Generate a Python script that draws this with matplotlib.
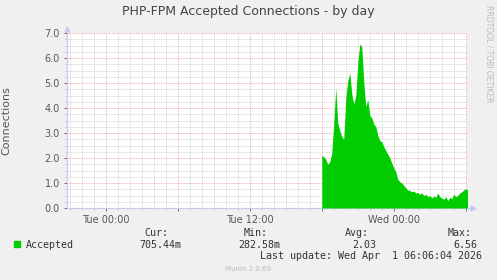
import matplotlib
matplotlib.use('Agg')
import matplotlib.pyplot as plt
from matplotlib.ticker import FixedLocator, MultipleLocator

# data: hours relative to Tue 00:00, 10-minute samples starting Tue 18:00
start_hour = 18.0
step_hours = 1 / 6
accepted = [2.10, 2.05, 1.95, 1.75, 1.85, 2.20, 3.40, 4.80, 3.40, 3.10,
            2.85, 2.75, 4.40, 5.10, 5.40, 4.55, 4.15, 4.50, 5.80, 6.56,
            6.45, 5.00, 4.05, 4.35, 3.70, 3.60, 3.35, 3.25, 2.90, 2.70,
            2.65, 2.45, 2.30, 2.15, 2.00, 1.80, 1.60, 1.45, 1.15, 1.05,
            1.00, 0.90, 0.80, 0.72, 0.70, 0.65, 0.68, 0.60, 0.62, 0.55,
            0.60, 0.50, 0.55, 0.45, 0.50, 0.40, 0.48, 0.42, 0.60, 0.45,
            0.40, 0.35, 0.45, 0.30, 0.42, 0.38, 0.55, 0.45, 0.50, 0.60,
            0.65, 0.72, 0.78, 0.71]
hours = [start_hour + i * step_hours for i in range(len(accepted))]

x_min, x_max = -3.233, 30.1
tick_hours = [0, 6, 12, 18, 24, 30]
tick_labels = ['Tue 00:00', '', 'Tue 12:00', '', 'Wed 00:00', '']
y_ticks = [0, 1, 2, 3, 4, 5, 6, 7]

title = 'PHP-FPM Accepted Connections - by day'
stats_heads = ['Cur:', 'Min:', 'Avg:', 'Max:']
stats_vals = ['705.44m', '282.58m', '2.03', '6.56']

W, H = 497, 280
bg = '#F0F0F0'
axis_col = '#C8C8F0'
txt = '#555555'

fig = plt.figure(figsize=(W / 100, H / 100), dpi=100, facecolor=bg)
ax = fig.add_axes([67 / W, 72 / H, 400 / W, 175 / H])
ax.set_facecolor('white')

ax.fill_between(hours, accepted, 0, color='#00CC00', linewidth=0, zorder=3)

ax.set_xlim(x_min, x_max)
ax.set_ylim(0, 7.0)

# grid
ax.xaxis.set_major_locator(FixedLocator(tick_hours))
ax.xaxis.set_minor_locator(MultipleLocator(1))
ax.yaxis.set_major_locator(FixedLocator(y_ticks))
ax.yaxis.set_minor_locator(MultipleLocator(0.25))
ax.grid(which='minor', color='#CCCCCC', linestyle=(0, (1, 1)), linewidth=0.6, zorder=1)
ax.grid(which='major', color='#F29A9A', linestyle=(0, (1, 1)), linewidth=0.6, zorder=2)
ax.set_axisbelow(True)

ax.set_xticklabels(tick_labels)
ax.set_yticklabels(['%.1f' % v for v in y_ticks])
ax.tick_params(axis='both', which='major', labelsize=7, colors=txt, length=2, width=0.6, pad=3)
ax.tick_params(axis='both', which='minor', length=1.5, width=0.5, color='#BBBBBB')
for t in ax.get_xticklines() + ax.get_yticklines():
    t.set_color('#E08080')

for side in ['top', 'right']:
    ax.spines[side].set_visible(False)
for side in ['left', 'bottom']:
    ax.spines[side].set_color(axis_col)
    ax.spines[side].set_linewidth(0.8)

# axis arrows
ax.plot([0, 0], [1.0, 1.02], color=axis_col, linewidth=0.8, transform=ax.transAxes, clip_on=False)
ax.plot([0], [1.025], marker='^', color=axis_col, markersize=3.5, transform=ax.transAxes, clip_on=False)
ax.plot([1.0, 1.01], [0, 0], color=axis_col, linewidth=0.8, transform=ax.transAxes, clip_on=False)
ax.plot([1.014], [0], marker='>', color=axis_col, markersize=3.5, transform=ax.transAxes, clip_on=False)

ax.set_ylabel('Connections', fontsize=8, color=txt)
ax.yaxis.set_label_coords(-56 / 400, 0.5)

fig.text(248 / W, 1 - 12 / H, title, ha='center', va='center', fontsize=9, color='#444444')
fig.text(489 / W, 1 - 5 / H, 'RRDTOOL / TOBI OETIKER', rotation=270, ha='center', va='top',
         fontsize=5.5, color='#BBBBBB')

# legend and stats
mono = 'DejaVu Sans Mono'
fig.patches.append(plt.Rectangle((14 / W, 1 - 247 / H), 6 / W, 6 / H, transform=fig.transFigure,
                                 color='#00CC00'))
fig.text(26 / W, 1 - 245 / H, 'Accepted', ha='left', va='center', fontsize=7.2, family=mono, color='#333333')
head_x = [168, 268, 369, 472]
val_x = [181, 280, 376, 477]
for hx, vx, h, v in zip(head_x, val_x, stats_heads, stats_vals):
    fig.text(hx / W, 1 - 233 / H, h, ha='right', va='center', fontsize=7.2, family=mono, color='#333333')
    fig.text(vx / W, 1 - 245 / H, v, ha='right', va='center', fontsize=7.2, family=mono, color='#333333')
fig.text(482 / W, 1 - 256 / H, 'Last update: Wed Apr  1 06:06:04 2026', ha='right', va='center',
         fontsize=7.2, family=mono, color='#333333')
fig.text(248 / W, 1 - 269 / H, 'Munin 2.0.69', ha='center', va='center', fontsize=5, color='#BBBBBB')

fig.savefig('out.png', dpi=100, facecolor=bg)
